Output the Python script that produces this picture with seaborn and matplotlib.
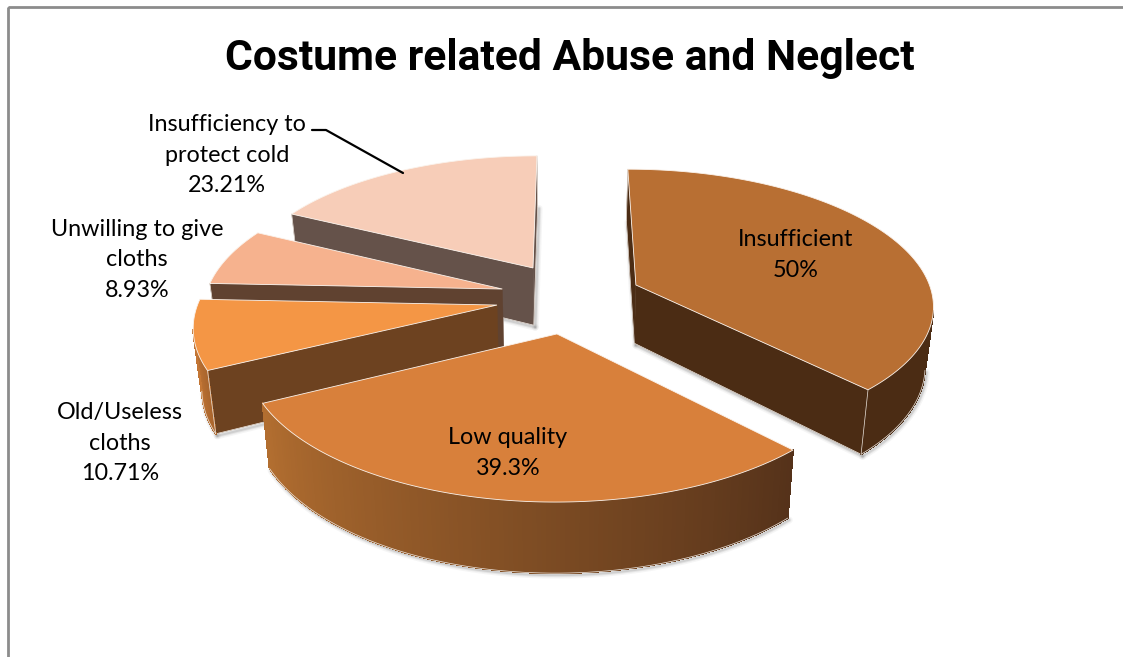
import numpy as np
import matplotlib
matplotlib.use("Agg")
import matplotlib.pyplot as plt
from matplotlib.collections import PolyCollection
from matplotlib.colors import to_rgb
from matplotlib.patches import Rectangle
import seaborn as sns

# Survey shares, clockwise from twelve o'clock
categories = ["Insufficient", "Low quality", "Old/Useless\ncloths",
              "Unwilling to give\ncloths", "Insufficiency to\nprotect cold"]
values = [50.0, 39.3, 10.71, 8.93, 23.21]
value_labels = ["50%", "39.3%", "10.71%", "8.93%", "23.21%"]

# Pulled-out distance of each slice on the pie plane (right, back)
explode = [(0.230, 0.137), (-0.032, -0.188), (-0.229, 0.0), (-0.215, 0.109), (-0.1155, 0.258)]

top_colors = ["#B86F33", "#D8803B", "#F49645", "#F6B28E", "#F7CDB8"]
cut_colors = ["#4B2C14", "#5F3A1B", "#6D4220", "#604230", "#65524A"]
rim_colors = [("#4B2C14", "#4B2C14"), ("#55321A", "#B26E30"), ("#A8642C", "#D9853C"),
              ("#8A5A40", "#8A5A40"), ("#8A7468", "#8A7468")]
label_anchor = [(796, 255), (508, 453), (120, 443), (137, 260), (227, 155)]

# Perspective camera of the pie, in figure pixels
VANISH_X, VANISH_Y = 567.0, -700.0
FOCAL_X, FOCAL_Y, DEPTH = 2057.0, 6764.0, 6.73
RADIUS_WIDTH, RADIUS_DEPTH = 0.98, 0.915
THICKNESS = 400.0
TAPER = 0.023
EDGE = "#EDE6DF"

sns.set_theme(style="white")
plt.rcParams["font.family"] = ["Lato", "DejaVu Sans"]
palette = sns.color_palette(top_colors)

fig, ax = plt.subplots(figsize=(11.23, 6.57), dpi=100)
ax.set_position([0, 0, 1, 1])
ax.set_xlim(0, 1123)
ax.set_ylim(657, 0)
ax.axis("off")


def project(u, v, z=0.0):
    """Map a point of the pie (u right, v back, z 0 top .. 1 bottom) to pixels."""
    w = DEPTH + v
    return (VANISH_X + FOCAL_X * u * (1 - TAPER * z) / w,
            VANISH_Y + (FOCAL_Y + THICKNESS * z) / w)


def lerp(a, b, t):
    a, b = np.array(to_rgb(a)), np.array(to_rgb(b))
    return tuple(a + (b - a) * t)


fractions = np.array(values) / np.sum(values)
edges = np.concatenate([[0.0], np.cumsum(fractions) * 2 * np.pi])


def faces_camera(nu, nv, u, v):
    """True when a wall with normal (nu, nv) at (u, v) turns towards the viewer."""
    return nu * (0.0 - u) + nv * (-DEPTH - v) > 0


def soft_shadow(xs, ys, base):
    for lw, alpha in [(5, 0.06), (3, 0.10), (1.5, 0.16)]:
        ax.plot(np.asarray(xs) + 1.5, np.asarray(ys) + 2, color="#606060", lw=lw, alpha=alpha,
                solid_capstyle="round", zorder=base)


def draw_slice(i, base):
    ou, ov = explode[i]
    th = np.linspace(edges[i], edges[i + 1], 140)
    us = ou + RADIUS_WIDTH * np.sin(th)
    vs = ov + RADIUS_DEPTH * np.cos(th)
    xt, yt = project(us, vs, 0.0)
    xb, yb = project(us, vs, 1.0)
    ax_t, ay_t = project(ou, ov, 0.0)
    ax_b, ay_b = project(ou, ov, 1.0)

    # radial cut faces that turn towards the viewer
    normals = [(-np.cos(th[0]), np.sin(th[0])), (np.cos(th[-1]), -np.sin(th[-1]))]
    for k, (nu, nv) in zip((0, -1), normals):
        if faces_camera(nu, nv, ou, ov):
            soft_shadow([xb[k], ax_b], [yb[k], ay_b], base)
            ax.fill([ax_t, xt[k], xb[k], ax_b], [ay_t, yt[k], yb[k], ay_b],
                    color=cut_colors[i], lw=0.3, zorder=base + 0.1)
            ax.plot([xb[k], ax_b], [yb[k], ay_b], color=EDGE, lw=0.5, zorder=base + 0.15)
            ax.plot([xt[k], xb[k]], [yt[k], yb[k]], color=EDGE, lw=0.5, zorder=base + 0.25)

    # visible part of the rim, shaded along the arc
    seen = faces_camera(np.sin(th), np.cos(th), us, vs)
    if seen.any():
        soft_shadow(xb[seen], yb[seen], base)
        quads, cols = [], []
        for j in range(len(th) - 1):
            if seen[j] and seen[j + 1]:
                quads.append([(xt[j], yt[j]), (xt[j + 1], yt[j + 1]), (xb[j + 1], yb[j + 1]), (xb[j], yb[j])])
                cols.append(lerp(rim_colors[i][0], rim_colors[i][1], j / (len(th) - 2)))
        ax.add_collection(PolyCollection(quads, facecolors=cols, edgecolors=cols, linewidths=0.6,
                                         antialiaseds=False, zorder=base + 0.2))
        ax.plot(xb[seen], yb[seen], color=EDGE, lw=0.5, zorder=base + 0.25)

    # top face
    fx = np.concatenate([[ax_t], xt])
    fy = np.concatenate([[ay_t], yt])
    ax.fill(fx, fy, facecolor=palette[i], edgecolor="#FBF3EC", lw=0.6, zorder=base + 0.3)


# paint from the back of the pie towards the viewer
for pos, idx in enumerate([4, 3, 0, 2, 1]):
    draw_slice(idx, 10 + pos)

# chart-area frame, running past the right and lower edges
ax.add_patch(Rectangle((8, 6.5), 1140, 680, fill=False, edgecolor="#8C8C8C", lw=2, zorder=1))

ax.text(569.5, 58.5, "Costume related Abuse and Neglect", ha="center", va="center",
        fontsize=30.7, fontweight="bold", family=["Roboto", "DejaVu Sans"],
        color="black", zorder=40)

for name, share, (lx, ly) in zip(categories, value_labels, label_anchor):
    ax.text(lx, ly, f"{name}\n{share}", ha="center", va="center", fontsize=16.8,
            linespacing=1.55, color="black", zorder=40)

# leader from the outside label to its slice
ax.plot([312, 326, 403], [130, 130, 173], color="black", lw=1.6, zorder=40)

fig.savefig("out.png", dpi=100)
